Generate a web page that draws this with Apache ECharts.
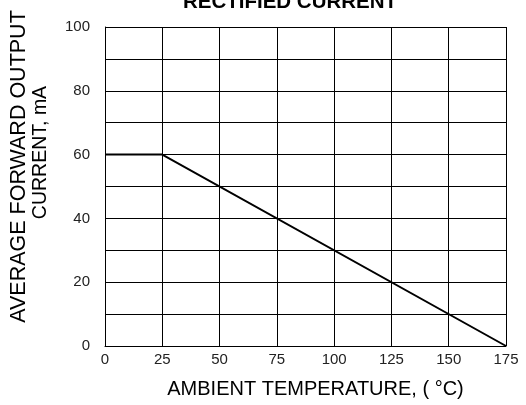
<!DOCTYPE html>
<html><head><meta charset="utf-8">
<script src="https://cdn.jsdelivr.net/npm/echarts@6/dist/echarts.min.js"></script>
<style>html,body{margin:0;padding:0;background:#fff}#c{width:526px;height:405px}</style>
</head><body><div id="c"></div>
<script>
const temperature = [0, 25, 175];
const current = [60, 60, 0];
const xTicks = [0, 25, 50, 75, 100, 125, 150, 175];
const yTicks = [0, 20, 40, 60, 80, 100];
const titleText = 'RECTIFIED CURRENT';
const xName = 'AMBIENT TEMPERATURE, ( °C)';
const yNameLines = ['AVERAGE FORWARD OUTPUT', 'CURRENT, mA'];

const font = '"Liberation Sans", Arial, sans-serif';
const chart = echarts.init(document.getElementById('c'));
chart.setOption({
  animation: false,
  backgroundColor: '#fff',
  title: {
    text: titleText, left: 285, top: -13.5, textAlign: 'center',
    textStyle: { fontFamily: font, fontSize: 20.5, fontWeight: 'bold', color: '#000' }
  },
  grid: { left: 105, right: 20, top: 27, bottom: 59, containLabel: false, outerBoundsMode: 'none' },
  xAxis: {
    type: 'value', min: 0, max: 175, interval: 25,
    name: xName, nameLocation: 'middle', nameGap: 33,
    nameTextStyle: { fontFamily: font, fontSize: 20, color: '#000', padding: [0, 0, 0, 20] },
    axisLine: { lineStyle: { color: '#000', width: 1 } },
    axisTick: { show: false },
    axisLabel: { fontFamily: font, fontSize: 15, color: '#222', margin: 6,
      formatter: v => xTicks.includes(v) ? String(v) : '' },
    splitLine: { show: true, lineStyle: { color: '#000', width: 1 } }
  },
  yAxis: {
    type: 'value', min: 0, max: 100, interval: 10,
    name: '{a|' + yNameLines[0] + '}\n{b|' + yNameLines[1] + '}',
    nameLocation: 'middle', nameGap: 53,
    nameTextStyle: {
      fontFamily: font, fontSize: 21, color: '#000', lineHeight: 22, align: 'center', padding: [0, 0, 0, 40],
      rich: {
        a: { fontFamily: font, fontSize: 21.5, color: '#000', lineHeight: 22 },
        b: { fontFamily: font, fontSize: 19.5, color: '#000', lineHeight: 22, padding: [0, 0, 0, 28] }
      }
    },
    axisLine: { show: true, lineStyle: { color: '#000', width: 1 } },
    axisTick: { show: false },
    axisLabel: { fontFamily: font, fontSize: 15, color: '#222', margin: 15, padding: [5, 0, 0, 0],
      formatter: v => yTicks.includes(v) ? String(v) : '' },
    splitLine: { show: true, lineStyle: { color: '#000', width: 1 } }
  },
  series: [{
    type: 'line', data: temperature.map((t, i) => [t, current[i]]),
    symbol: 'none', lineStyle: { color: '#000', width: 2 }
  }]
});
</script></body></html>
